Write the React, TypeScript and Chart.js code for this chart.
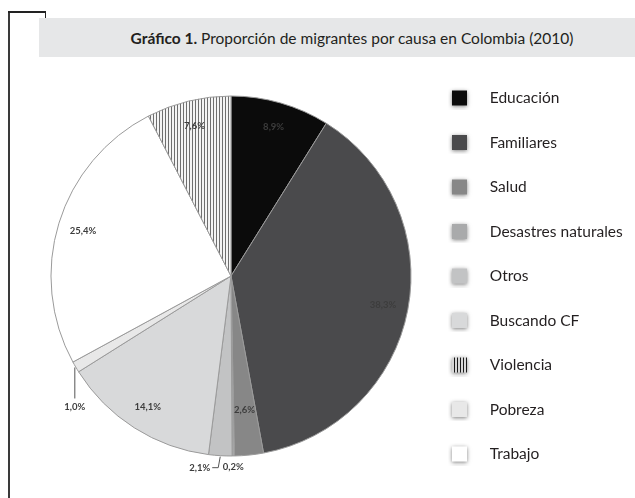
import React, { useEffect, useRef } from 'react';
import { Chart, registerables } from 'chart.js';

Chart.register(...registerables);

const TITLE_BOLD = 'Gráfico 1.';
const TITLE_REST = 'Proporción de migrantes por causa en Colombia (2010)';

// Pie order (clockwise from 12 o'clock)
const categories = ['Educación', 'Familiares', 'Salud', 'Desastres naturales', 'Otros', 'Buscando CF', 'Pobreza', 'Trabajo', 'Violencia'];
const values = [8.9, 38.3, 2.6, 0.2, 2.1, 14.1, 1.0, 25.4, 7.6];
const sliceColors = ['#0b0b0b', '#4a4a4c', '#878787', '#a9aaab', '#c2c3c4', '#d8d9da', '#e8e8e8', '#ffffff', 'stripes'];
const legendOrder = ['Educación', 'Familiares', 'Salud', 'Desastres naturales', 'Otros', 'Buscando CF', 'Violencia', 'Pobreza', 'Trabajo'];
const labelPlacement = ['in', 'in', 'in', 'below', 'leaderLeft', 'in', 'leaderDown', 'in', 'in'];

const LEGEND_SIZE = 15.5;
const LEGEND_PAD = 29;
const ICON_W = 34;

function fmt(v: number) {
  return v.toFixed(1).replace('.', ',') + '%';
}

function makeStripes(dark: string, light: string) {
  const c = document.createElement('canvas');
  c.width = 3;
  c.height = 4;
  const x = c.getContext('2d')!;
  x.fillStyle = light;
  x.fillRect(0, 0, 3, 4);
  x.fillStyle = dark;
  x.fillRect(0, 0, 1, 4);
  return x.createPattern(c, 'repeat')!;
}

function makeIcon(fill: string | CanvasPattern) {
  const c = document.createElement('canvas');
  c.width = ICON_W;
  c.height = 23;
  const x = c.getContext('2d')!;
  x.shadowColor = 'rgba(0,0,0,0.5)';
  x.shadowBlur = 4;
  x.shadowOffsetY = 1;
  x.fillStyle = fill as any;
  x.fillRect(4, 4, 15, 15);
  return c;
}

const labelPlugin = {
  id: 'sliceLabels',
  afterDatasetsDraw(chart: any) {
    const ctx: CanvasRenderingContext2D = chart.ctx;
    const meta = chart.getDatasetMeta(0);
    ctx.save();
    ctx.font = 'bold 9.5px Lato';
    ctx.fillStyle = '#3d3d3d';
    ctx.strokeStyle = '#555555';
    ctx.lineWidth = 1;
    ctx.textBaseline = 'middle';
    meta.data.forEach((arc: any, i: number) => {
      const { x, y, startAngle, endAngle, outerRadius } = arc.getProps(['x', 'y', 'startAngle', 'endAngle', 'outerRadius'], true);
      const mid = (startAngle + endAngle) / 2;
      const cos = Math.cos(mid);
      const sin = Math.sin(mid);
      const text = fmt(values[i]);
      const kind = labelPlacement[i];
      if (kind === 'in') {
        const r = outerRadius * (values[i] < 5 ? 0.75 : 0.86);
        ctx.textAlign = 'center';
        ctx.fillText(text, x + cos * r, y + sin * r);
      } else {
        const px = x + cos * (outerRadius + 1);
        const py = y + sin * (outerRadius + 1);
        if (kind === 'below') {
          ctx.textAlign = 'center';
          ctx.fillText(text, px, py + 10);
        } else if (kind === 'leaderLeft') {
          ctx.beginPath();
          ctx.moveTo(px, py);
          ctx.lineTo(px - 2, py + 11);
          ctx.lineTo(px - 8, py + 11);
          ctx.stroke();
          ctx.textAlign = 'right';
          ctx.fillText(text, px - 10, py + 11);
        } else if (kind === 'leaderDown') {
          ctx.beginPath();
          ctx.moveTo(px, py);
          ctx.lineTo(px, py + 31);
          ctx.stroke();
          ctx.textAlign = 'center';
          ctx.fillText(text, px, py + 39);
        }
      }
    });
    ctx.restore();
  },
};

function PieChart() {
  const ref = useRef<HTMLCanvasElement>(null);
  useEffect(() => {
    const canvas = ref.current!;
    const stripes = makeStripes('#6e6e6e', '#f4f4f4');
    const legendStripes = makeStripes('#1a1a1a', '#d8d8d8');
    const bg = sliceColors.map((c) => (c === 'stripes' ? stripes : c));
    const icons = sliceColors.map((c) => makeIcon(c === 'stripes' ? legendStripes : c));

    const m = canvas.getContext('2d')!;
    m.font = `${LEGEND_SIZE}px Lato`;
    const maxW = Math.max(...categories.map((t) => m.measureText(t).width));
    const legendLeft = 448 - LEGEND_PAD;
    const padRight = Math.max(0, 635 - legendLeft - (LEGEND_PAD + ICON_W + LEGEND_SIZE / 2 + maxW + 10));
    const padLeft = 231 * 2 - legendLeft;

    const chart = new Chart(canvas, {
      type: 'pie',
      data: {
        labels: categories,
        datasets: [
          {
            data: values,
            backgroundColor: bg as any,
            borderColor: '#9a9a9a',
            borderWidth: 1,
          },
        ],
      },
      plugins: [labelPlugin],
      options: {
        responsive: false,
        animation: false,
        radius: 180,
        layout: { padding: { top: 61, bottom: 7, left: padLeft, right: padRight } },
        plugins: {
          tooltip: { enabled: false },
          legend: {
            position: 'right',
            labels: {
              usePointStyle: true,
              pointStyleWidth: ICON_W,
              boxHeight: 15,
              padding: LEGEND_PAD,
              color: '#231f20',
              font: { family: 'Lato', size: LEGEND_SIZE },
              generateLabels: (ch: any) => {
                const items = (Chart as any).overrides.pie.plugins.legend.labels.generateLabels(ch);
                return items.map((it: any) => ({ ...it, pointStyle: icons[it.index] }));
              },
              sort: (a: any, b: any) => legendOrder.indexOf(a.text) - legendOrder.indexOf(b.text),
            },
          },
        },
      } as any,
    });
    return () => chart.destroy();
  }, []);
  return <canvas ref={ref} width={635} height={498} style={{ position: 'absolute', left: 0, top: 0 }} />;
}

export default function App() {
  return (
    <div style={{ position: 'absolute', left: 0, top: 0, width: 635, height: 498, overflow: 'hidden', background: '#ffffff' }}>
      <div style={{ position: 'absolute', left: 8, top: 11, width: 2, height: 490, background: '#3a3a3a' }} />
      <div style={{ position: 'absolute', left: 8, top: 11, width: 38, height: 1.5, background: '#222' }} />
      <div style={{ position: 'absolute', left: 44.5, top: 11, width: 1.5, height: 8, background: '#222' }} />
      <div
        style={{
          position: 'absolute',
          left: 39,
          top: 18,
          width: 596,
          height: 39,
          background: '#e6e7e8',
          boxSizing: 'border-box',
          paddingLeft: 30,
          display: 'flex',
          alignItems: 'center',
          justifyContent: 'center',
          fontFamily: 'Lato',
          fontSize: 15.5,
          color: '#231f20',
          whiteSpace: 'pre',
        }}
      >
        <span style={{ fontWeight: 'bold' }}>{TITLE_BOLD}</span>
        <span>{' ' + TITLE_REST}</span>
      </div>
      <PieChart />
    </div>
  );
}
